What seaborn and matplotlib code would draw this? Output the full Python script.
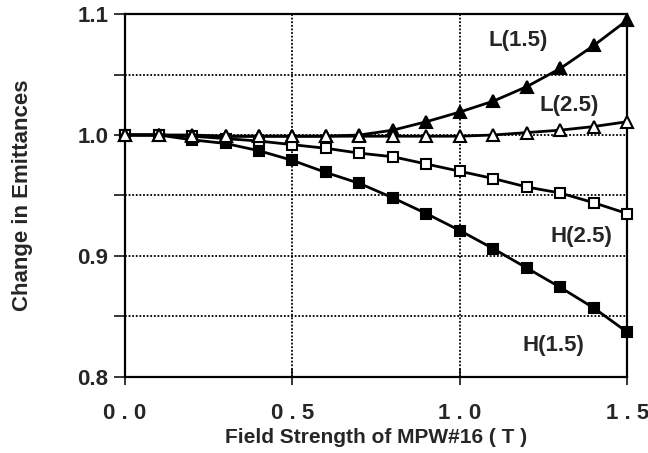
import numpy as np
import pandas as pd
import matplotlib
matplotlib.use("Agg")
import matplotlib.pyplot as plt
import seaborn as sns

# Campo del MPW#16 (T)
field = [0.0, 0.1, 0.2, 0.3, 0.4, 0.5, 0.6, 0.7, 0.8, 0.9, 1.0, 1.1, 1.2, 1.3, 1.4, 1.5]

h15 = [1.000, 1.000, 0.996, 0.993, 0.987, 0.979, 0.969, 0.960, 0.948, 0.935,
       0.921, 0.906, 0.890, 0.874, 0.857, 0.837]
h25 = [1.000, 1.000, 0.999, 0.997, 0.995, 0.992, 0.989, 0.985, 0.982, 0.976,
       0.970, 0.964, 0.957, 0.952, 0.944, 0.935]
l15 = [1.000, 1.000, 1.000, 0.999, 0.999, 0.999, 0.999, 1.000, 1.004, 1.011,
       1.019, 1.028, 1.040, 1.055, 1.074, 1.095]
l25 = [1.000, 1.000, 0.999, 0.999, 0.999, 0.999, 0.999, 0.999, 0.999, 0.999,
       0.999, 1.000, 1.002, 1.004, 1.007, 1.011]

series_names = ["H(1.5)", "H(2.5)", "L(1.5)", "L(2.5)"]
xtick_vals = [0.0, 0.5, 1.0, 1.5]
xtick_labels = ["0 . 0", "0 . 5", "1 . 0", "1 . 5"]
ytick_vals = [0.8, 0.9, 1.0, 1.1]

df = pd.DataFrame({
    "field": field * 4,
    "value": h15 + h25 + l15 + l25,
    "serie": sum([[n] * len(field) for n in series_names], []),
})

sns.set_style("ticks")
plt.rcParams["font.family"] = ["Liberation Sans", "DejaVu Sans"]
plt.rcParams["font.weight"] = "bold"

fig = plt.figure(figsize=(6.48, 4.53), dpi=100)
ax = fig.add_axes([0.193, 0.168, 0.775, 0.801])

# estilos de marcador por serie
styles = {
    "H(1.5)": dict(marker="s", mfc="black", ms=7),
    "H(2.5)": dict(marker="s", mfc="white", ms=7),
    "L(1.5)": dict(marker="^", mfc="black", ms=8),
    "L(2.5)": dict(marker="^", mfc="white", ms=8),
}

# cuadricula punteada
for yv in [0.85, 0.9, 0.95, 1.0, 1.05]:
    ax.axhline(yv, color="black", lw=1.3, ls=(0, (1, 1)), zorder=1)
for xv in [0.5, 1.0]:
    ax.axvline(xv, color="black", lw=1.3, ls=(0, (1, 1)), zorder=1)

for name in series_names:
    st = styles[name]
    sns.lineplot(data=df[df["serie"] == name], x="field", y="value", ax=ax,
                 color="black", lw=2.0, marker=st["marker"],
                 markerfacecolor=st["mfc"], markeredgecolor="black",
                 markeredgewidth=1.5, markersize=st["ms"], zorder=3,
                 clip_on=False)

ax.set_xlim(0, 1.5)
ax.set_ylim(0.8, 1.1)
ax.set_xticks(xtick_vals)
ax.set_xticklabels(xtick_labels, fontsize=16, fontweight="bold")
ax.set_yticks(ytick_vals)
ax.set_yticklabels([f"{v:.1f}" for v in ytick_vals], fontsize=16, fontweight="bold")
ax.set_yticks([0.85, 0.95, 1.05], minor=True)
ax.tick_params(axis="y", which="both", direction="out", length=8, width=1.3, pad=4)
ax.tick_params(axis="x", direction="inout", length=12, width=1.3, pad=13)

for sp in ax.spines.values():
    sp.set_linewidth(1.6)
    sp.set_color("black")

ax.set_xlabel("Field Strength of MPW#16 ( T )", fontsize=15, fontweight="bold", labelpad=3)
ax.set_ylabel("Change in Emittances", fontsize=16, fontweight="bold", labelpad=32)

# etiquetas de las curvas
lab = dict(fontsize=16, fontweight="bold", ha="center", va="center")
ax.text(1.174, 1.078, "L(1.5)", **lab)
ax.text(1.327, 1.024, "L(2.5)", **lab)
ax.text(1.362, 0.916, "H(2.5)", **lab)
ax.text(1.279, 0.826, "H(1.5)", **lab)

plt.savefig("out.png", dpi=100)
